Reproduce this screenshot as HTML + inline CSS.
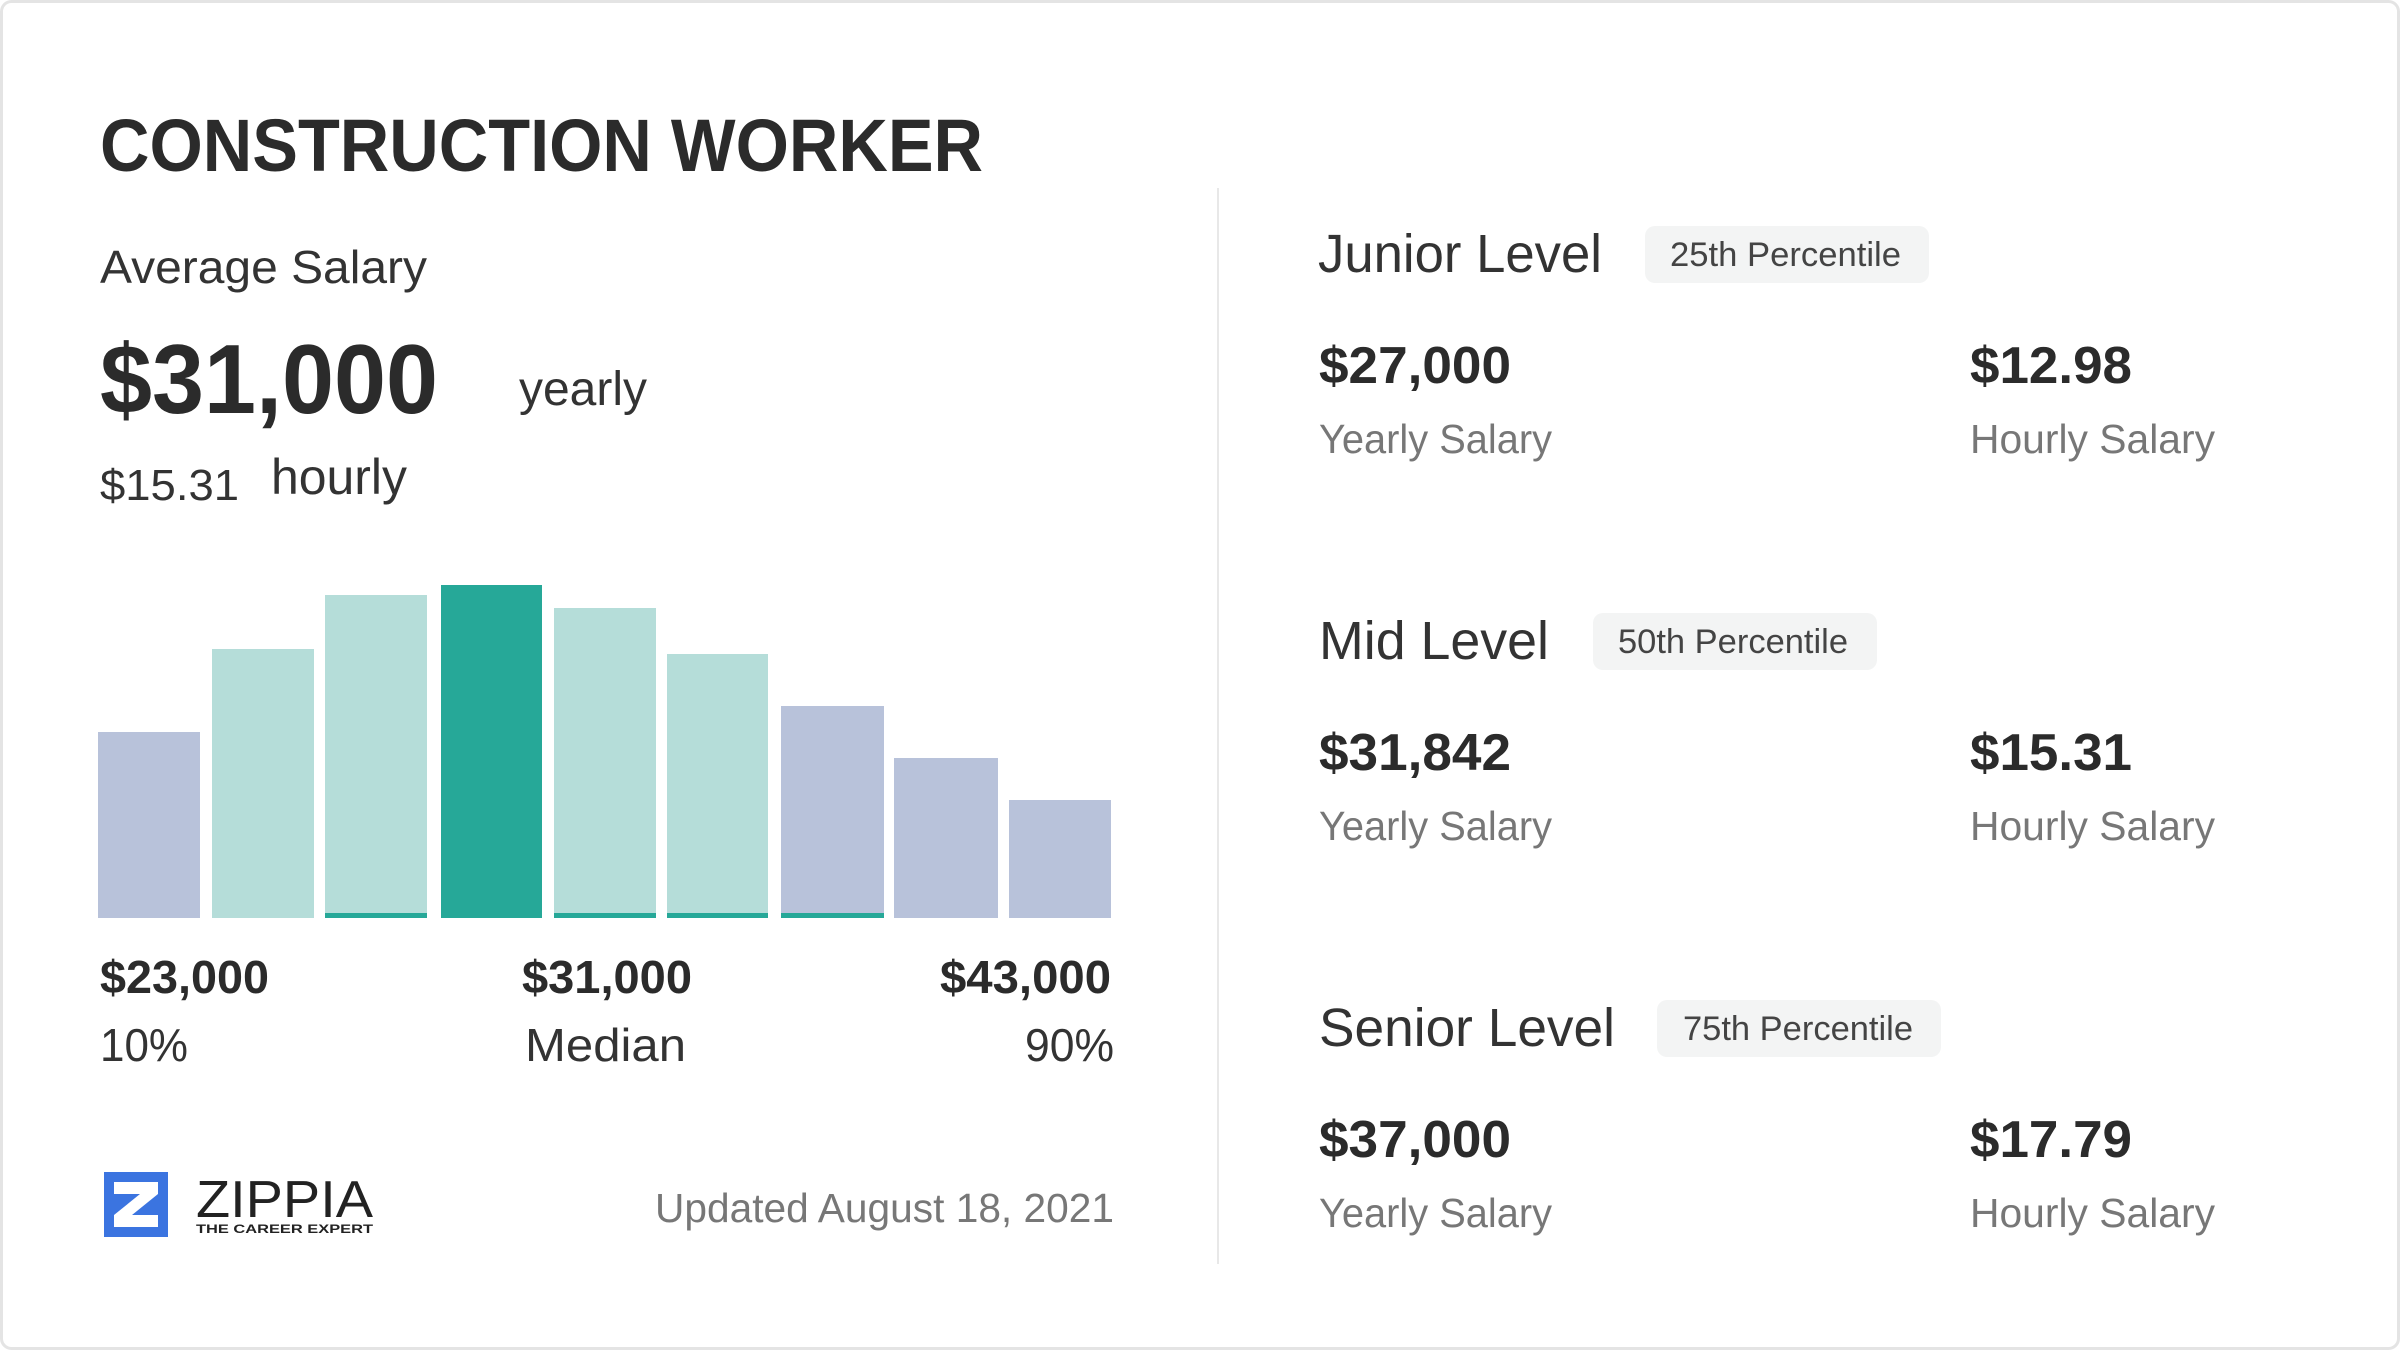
<!DOCTYPE html>
<html><head><meta charset="utf-8"><style>
html,body{margin:0;padding:0;background:#fff;width:2400px;height:1350px;overflow:hidden}
svg{display:block}
text{font-family:"Liberation Sans",sans-serif}
</style></head><body>
<svg width="2400" height="1350" viewBox="0 0 2400 1350" xmlns="http://www.w3.org/2000/svg">
<rect x="1.5" y="1.5" width="2397" height="1347" rx="10" fill="#fff" stroke="#e4e4e4" stroke-width="3"/>
<text x="100" y="171" font-size="74" font-weight="bold" fill="#2b2b2b" textLength="883" lengthAdjust="spacingAndGlyphs">CONSTRUCTION WORKER</text>
<text x="100" y="283" font-size="46" fill="#333" textLength="327" lengthAdjust="spacingAndGlyphs">Average Salary</text>
<text x="100" y="413" font-size="98" font-weight="bold" fill="#2b2b2b" textLength="338" lengthAdjust="spacingAndGlyphs">$31,000</text>
<text x="519" y="405" font-size="48" fill="#333" textLength="128" lengthAdjust="spacingAndGlyphs">yearly</text>
<text x="100" y="500" font-size="44" fill="#333" textLength="139" lengthAdjust="spacingAndGlyphs">$15.31</text>
<text x="271" y="494" font-size="50" fill="#333" textLength="136" lengthAdjust="spacingAndGlyphs">hourly</text>
<g>
<rect x="98" y="732" width="102" height="186" fill="#b8c2da"/>
<rect x="212" y="649" width="102" height="269" fill="#b5ddd9"/>
<rect x="325" y="595" width="102" height="323" fill="#b5ddd9"/>
<rect x="441" y="585" width="101" height="333" fill="#26a898"/>
<rect x="554" y="608" width="102" height="310" fill="#b5ddd9"/>
<rect x="667" y="654" width="101" height="264" fill="#b5ddd9"/>
<rect x="781" y="706" width="103" height="212" fill="#b8c2da"/>
<rect x="894" y="758" width="104" height="160" fill="#b8c2da"/>
<rect x="1009" y="800" width="102" height="118" fill="#b8c2da"/>
<rect x="325" y="913" width="102" height="5" fill="#26a898"/>
<rect x="554" y="913" width="102" height="5" fill="#26a898"/>
<rect x="667" y="913" width="101" height="5" fill="#26a898"/>
<rect x="781" y="913" width="103" height="5" fill="#26a898"/>
</g>
<g font-size="46" fill="#2b2b2b" font-weight="bold">
<text x="100" y="993" textLength="169" lengthAdjust="spacingAndGlyphs">$23,000</text>
<text x="522" y="993" textLength="170" lengthAdjust="spacingAndGlyphs">$31,000</text>
<text x="940" y="993" textLength="171" lengthAdjust="spacingAndGlyphs">$43,000</text>
</g>
<g font-size="46" fill="#333">
<text x="100" y="1061" textLength="88" lengthAdjust="spacingAndGlyphs">10%</text>
<text x="525" y="1061" textLength="161" lengthAdjust="spacingAndGlyphs">Median</text>
<text x="1025" y="1061" textLength="89" lengthAdjust="spacingAndGlyphs">90%</text>
</g>
<text x="655" y="1222" font-size="41" fill="#777" textLength="459" lengthAdjust="spacingAndGlyphs">Updated August 18, 2021</text>
<g>
<rect x="104" y="1172" width="64" height="65" fill="#3b74e0"/>
<polygon points="114,1182 158,1182 158,1194 132,1215 158,1215 158,1227 114,1227 114,1215 140,1194 114,1194" fill="#fff"/>
<text x="196" y="1217" font-size="52" fill="#222" textLength="177" lengthAdjust="spacingAndGlyphs">ZIPPIA</text>
<text x="196" y="1233" font-size="12" font-weight="bold" fill="#222" textLength="177" lengthAdjust="spacingAndGlyphs">THE CAREER EXPERT</text>
</g>
<rect x="1217" y="188" width="2" height="1076" fill="#e8e8e8"/>
<g id="lv">
</g>
<!-- Junior -->
<text x="1318" y="272" font-size="54" fill="#333" textLength="284" lengthAdjust="spacingAndGlyphs">Junior Level</text>
<rect x="1645" y="226" width="284" height="57" rx="10" fill="#f3f4f4"/>
<text x="1670" y="266" font-size="34" fill="#444" textLength="231" lengthAdjust="spacingAndGlyphs">25th Percentile</text>
<text x="1319" y="383" font-size="52" font-weight="bold" fill="#2b2b2b" textLength="192" lengthAdjust="spacingAndGlyphs">$27,000</text>
<text x="1970" y="383" font-size="52" font-weight="bold" fill="#2b2b2b" textLength="162" lengthAdjust="spacingAndGlyphs">$12.98</text>
<text x="1319" y="453" font-size="41" fill="#777" textLength="233" lengthAdjust="spacingAndGlyphs">Yearly Salary</text>
<text x="1970" y="453" font-size="41" fill="#777" textLength="245" lengthAdjust="spacingAndGlyphs">Hourly Salary</text>
<!-- Mid -->
<text x="1319" y="659" font-size="54" fill="#333" textLength="230" lengthAdjust="spacingAndGlyphs">Mid Level</text>
<rect x="1593" y="613" width="284" height="57" rx="10" fill="#f3f4f4"/>
<text x="1618" y="653" font-size="34" fill="#444" textLength="230" lengthAdjust="spacingAndGlyphs">50th Percentile</text>
<text x="1319" y="770" font-size="52" font-weight="bold" fill="#2b2b2b" textLength="192" lengthAdjust="spacingAndGlyphs">$31,842</text>
<text x="1970" y="770" font-size="52" font-weight="bold" fill="#2b2b2b" textLength="162" lengthAdjust="spacingAndGlyphs">$15.31</text>
<text x="1319" y="840" font-size="41" fill="#777" textLength="233" lengthAdjust="spacingAndGlyphs">Yearly Salary</text>
<text x="1970" y="840" font-size="41" fill="#777" textLength="245" lengthAdjust="spacingAndGlyphs">Hourly Salary</text>
<!-- Senior -->
<text x="1319" y="1046" font-size="54" fill="#333" textLength="296" lengthAdjust="spacingAndGlyphs">Senior Level</text>
<rect x="1657" y="1000" width="284" height="57" rx="10" fill="#f3f4f4"/>
<text x="1683" y="1040" font-size="34" fill="#444" textLength="230" lengthAdjust="spacingAndGlyphs">75th Percentile</text>
<text x="1319" y="1157" font-size="52" font-weight="bold" fill="#2b2b2b" textLength="192" lengthAdjust="spacingAndGlyphs">$37,000</text>
<text x="1970" y="1157" font-size="52" font-weight="bold" fill="#2b2b2b" textLength="162" lengthAdjust="spacingAndGlyphs">$17.79</text>
<text x="1319" y="1227" font-size="41" fill="#777" textLength="233" lengthAdjust="spacingAndGlyphs">Yearly Salary</text>
<text x="1970" y="1227" font-size="41" fill="#777" textLength="245" lengthAdjust="spacingAndGlyphs">Hourly Salary</text>
</svg>
</body></html>
